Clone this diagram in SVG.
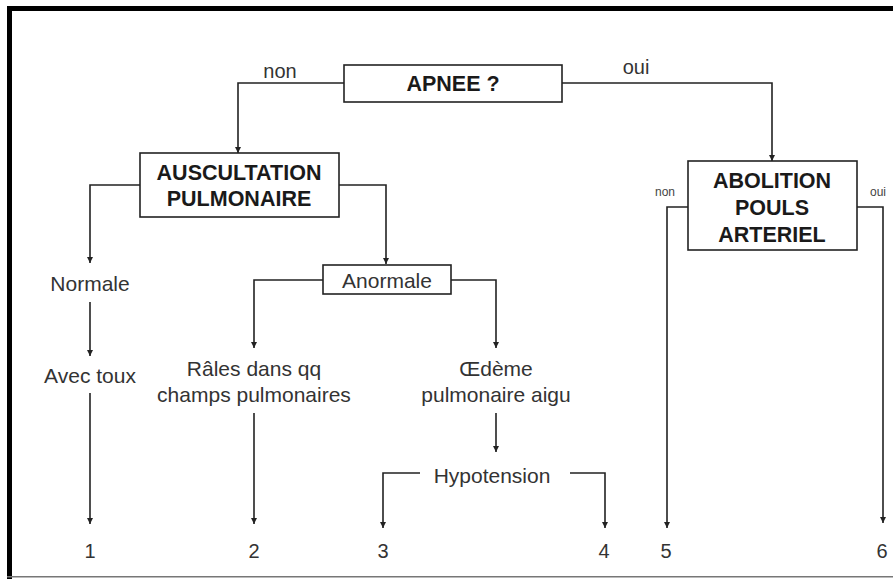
<svg xmlns="http://www.w3.org/2000/svg" width="893" height="579" viewBox="0 0 893 579">
<defs>
<marker id="arr" viewBox="0 0 10 10" refX="10" refY="5" markerWidth="6" markerHeight="6" markerUnits="userSpaceOnUse" orient="auto">
<path d="M0,0 L10,5 L0,10 z" fill="#222"/>
</marker>
<style>
.box{fill:#fff;stroke:#222;stroke-width:1.6}
.c{fill:none;stroke:#222;stroke-width:1.6}
.a{marker-end:url(#arr)}
.b{font-family:"Liberation Sans",Arial,sans-serif;font-weight:bold;font-size:21.5px;fill:#1a1a1a;text-anchor:middle}
.t{font-family:"Liberation Sans",Arial,sans-serif;font-size:21px;fill:#333;text-anchor:middle}
.n{font-family:"Liberation Sans",Arial,sans-serif;font-size:20px;fill:#333;text-anchor:middle}
.s{font-family:"Liberation Sans",Arial,sans-serif;font-size:12px;fill:#444;text-anchor:middle}
</style>
</defs>
<rect x="0" y="0" width="893" height="579" fill="#fff"/>
<g id="frame">
<rect x="7" y="6" width="886" height="5" fill="#000"/>
<rect x="7" y="6" width="5" height="573" fill="#000"/>
<rect x="7" y="576" width="886" height="1.5" fill="#777"/>
</g>
<g id="connectors">
<polyline class="c a" points="344,83 238,83 238,153"/>
<polyline class="c a" points="562,83 772,83 772,161"/>
<polyline class="c a" points="140,185 90,185 90,263"/>
<polyline class="c a" points="339,185 386,185 386,264"/>
<line class="c a" x1="90" y1="302" x2="90" y2="356"/>
<line class="c a" x1="90" y1="393" x2="90" y2="524"/>
<polyline class="c a" points="323,280 254,280 254,348"/>
<polyline class="c a" points="451,280 496,280 496,348"/>
<line class="c a" x1="254" y1="413" x2="254" y2="524"/>
<line class="c a" x1="496" y1="413" x2="496" y2="452"/>
<polyline class="c a" points="420,473 383,473 383,528"/>
<polyline class="c a" points="570,473 605,473 605,528"/>
<polyline class="c a" points="688,207 667,207 667,528"/>
<polyline class="c a" points="857,207 883,207 883,523"/>
<text class="n" x="280" y="78">non</text>
<text class="n" x="636" y="74">oui</text>
<text class="s" x="665" y="196">non</text>
<text class="s" x="878" y="196">oui</text>
</g>
<g id="n-apnee">
<rect class="box" x="344" y="65" width="218" height="37"/>
<text class="b" x="453" y="91">APNEE ?</text>
</g>
<g id="n-auscultation">
<rect class="box" x="140" y="153" width="199" height="64"/>
<text class="b" x="239" y="180">AUSCULTATION</text>
<text class="b" x="239" y="206">PULMONAIRE</text>
</g>
<g id="n-abolition">
<rect class="box" x="688" y="161" width="169" height="89"/>
<text class="b" x="772" y="188">ABOLITION</text>
<text class="b" x="772" y="215">POULS</text>
<text class="b" x="772" y="242">ARTERIEL</text>
</g>
<g id="n-normale"><text class="t" x="90" y="291">Normale</text></g>
<g id="n-anormale">
<rect class="box" x="323" y="265" width="128" height="29"/>
<text class="t" x="387" y="288">Anormale</text>
</g>
<g id="n-avectoux"><text class="t" x="90" y="383">Avec toux</text></g>
<g id="n-rales">
<text class="t" x="254" y="376">Râles dans qq</text>
<text class="t" x="254" y="402">champs pulmonaires</text>
</g>
<g id="n-oedeme">
<text class="t" x="496" y="376">Œdème</text>
<text class="t" x="496" y="402">pulmonaire aigu</text>
</g>
<g id="n-hypotension"><text class="t" x="492" y="483">Hypotension</text></g>
<g id="n-1"><text class="n" x="90" y="558">1</text></g>
<g id="n-2"><text class="n" x="254" y="558">2</text></g>
<g id="n-3"><text class="n" x="383" y="558">3</text></g>
<g id="n-4"><text class="n" x="604" y="558">4</text></g>
<g id="n-5"><text class="n" x="666" y="558">5</text></g>
<g id="n-6"><text class="n" x="882" y="558">6</text></g>
</svg>
